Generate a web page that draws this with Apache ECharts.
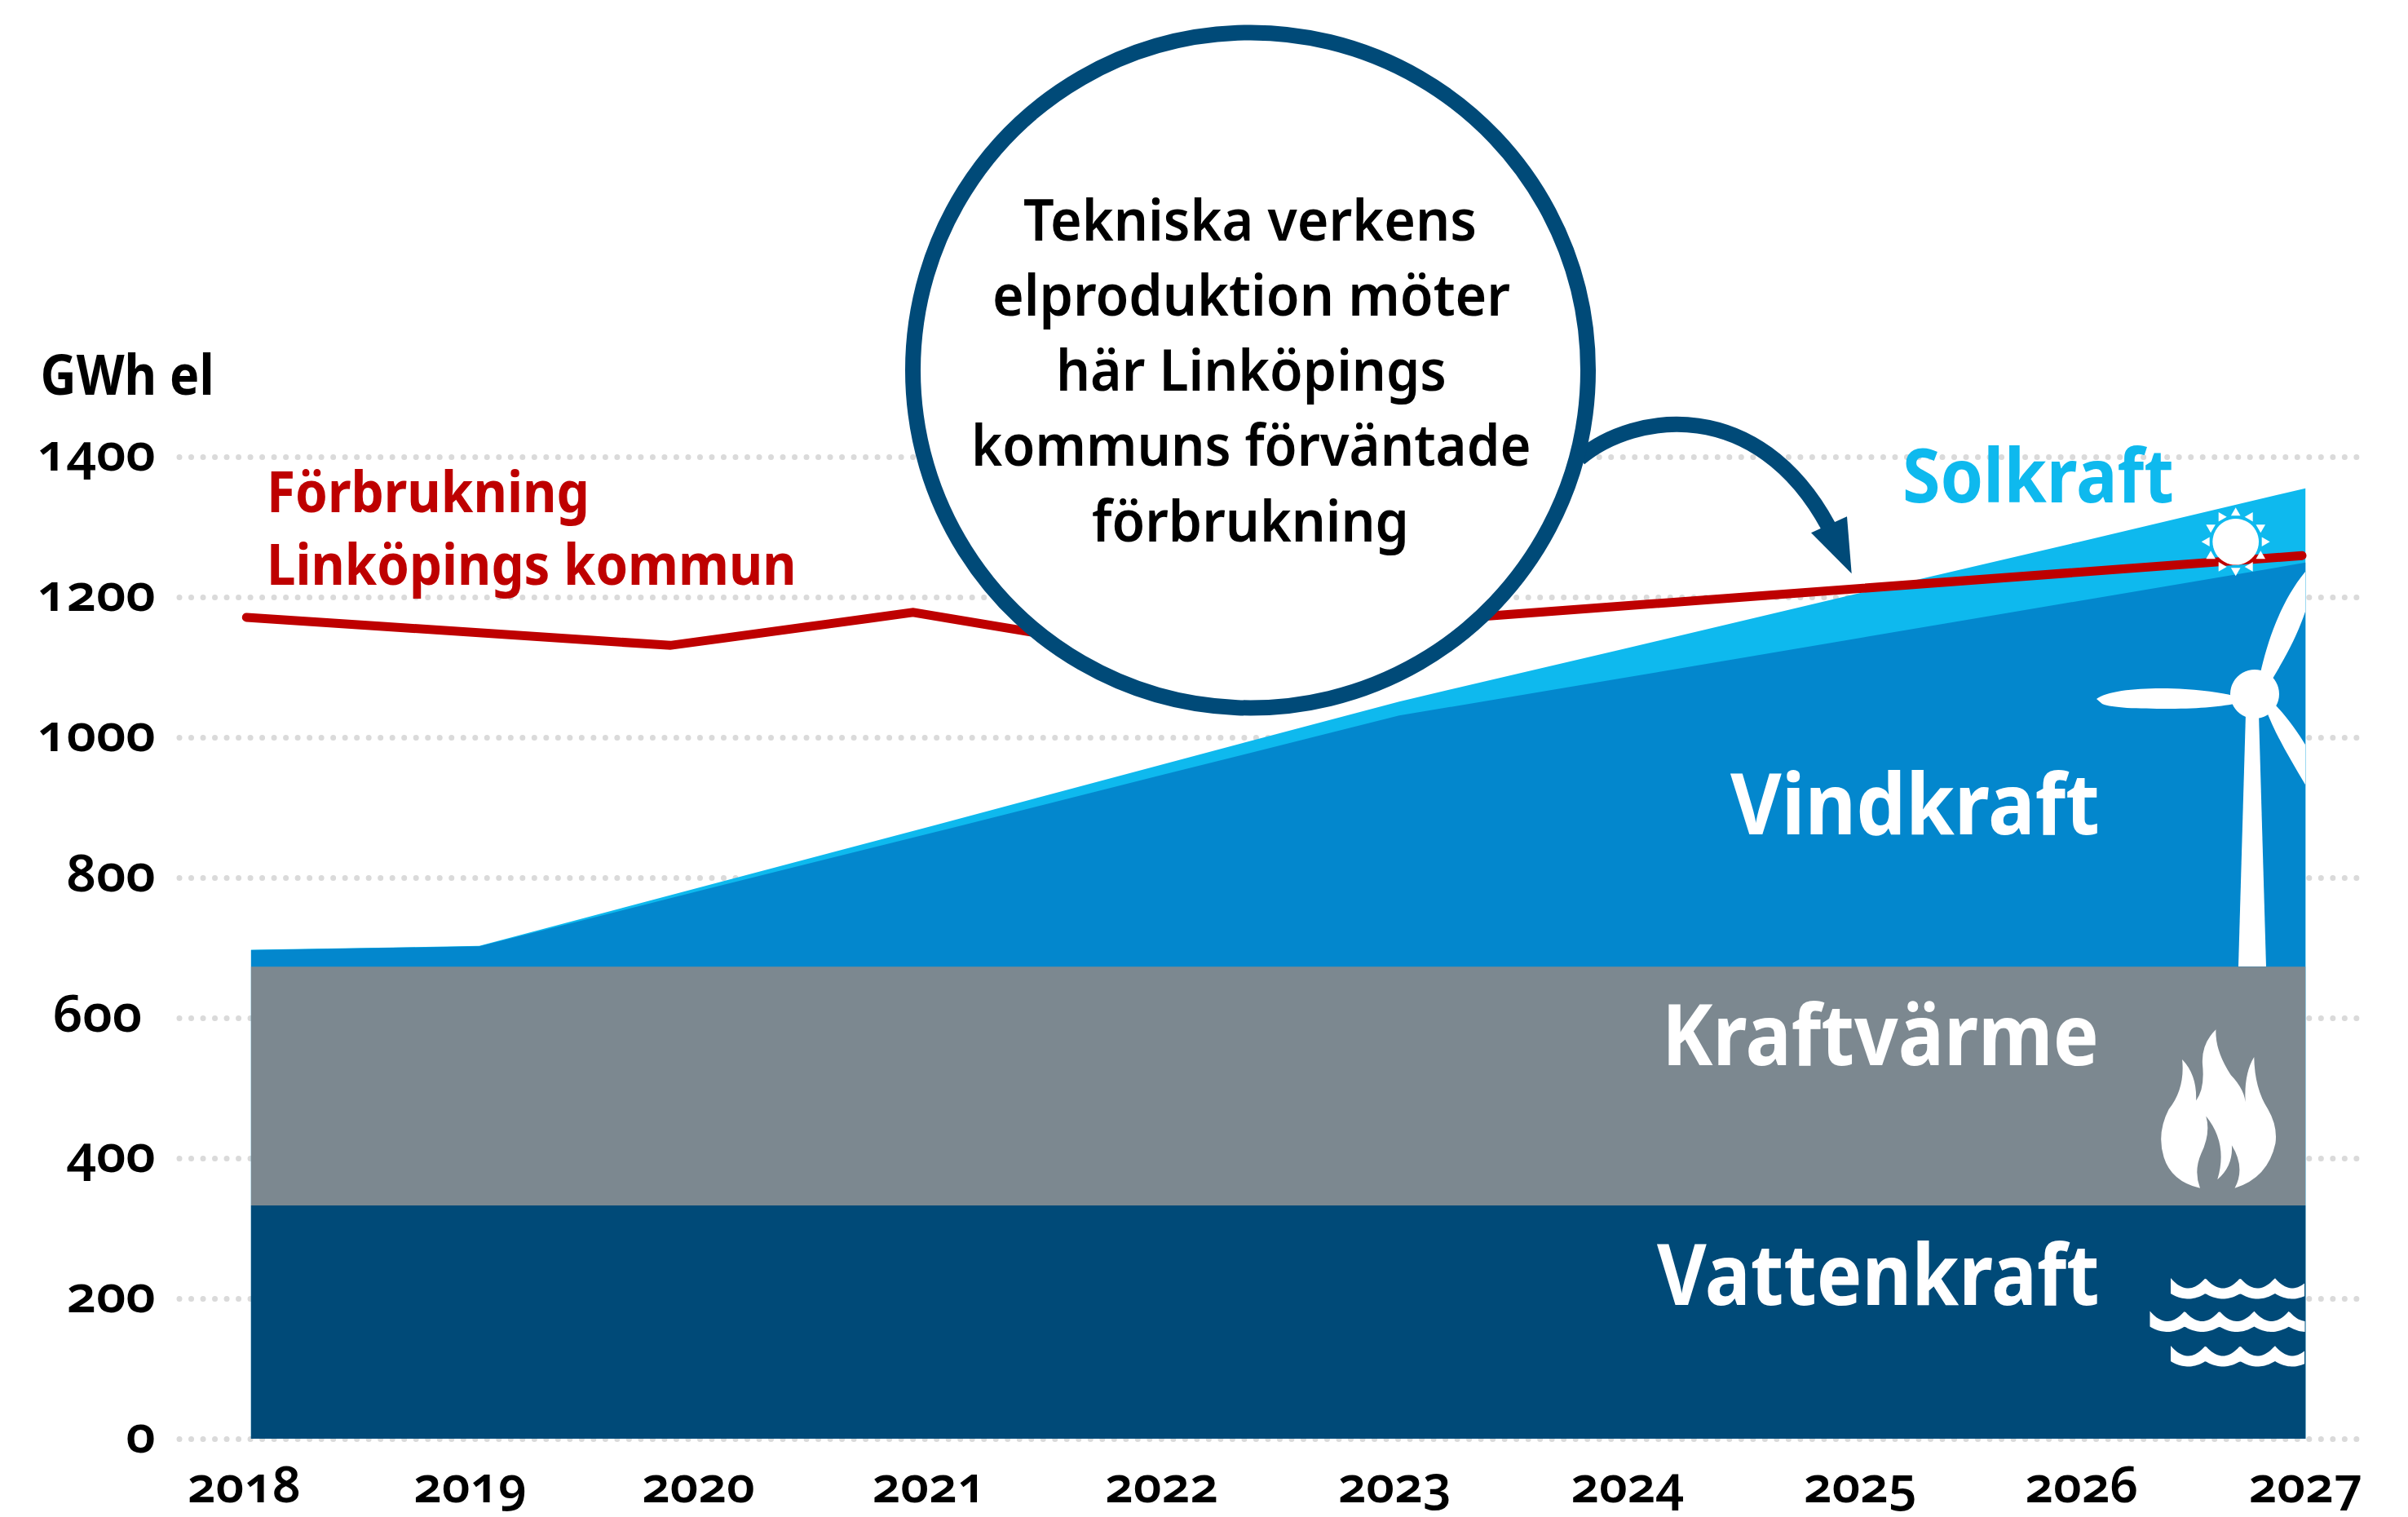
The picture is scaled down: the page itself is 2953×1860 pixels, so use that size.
<!DOCTYPE html>
<html>
<head>
<meta charset="utf-8">
<title>Elproduktion Linköping</title>
<script src="https://cdn.jsdelivr.net/npm/echarts@6/dist/echarts.min.js"></script>
<style>
	html, body { margin: 0; padding: 0; background: #fff; }
	#main { width: 2953px; height: 1860px; }
	/* gemena siffror som i originalet */
	#main text { font-feature-settings: "onum" 1, "lnum" 0 !important; }
</style>
</head>
<body>
<div id="main"></div>
<script>
"use strict";

var years = [2018, 2019, 2020, 2021, 2022, 2023.03, 2024, 2025, 2026, 2027];
var yearLabels = ['2018', '2019', '2020', '2021', '2022', '2023', '2024', '2025', '2026', '2027'];
// etiketterna sitter inte exakt under sina år i originalet
var yearLabelPos = [2017.97, 2018.96, 2019.96, 2020.97, 2021.99, 2023.01, 2024.03, 2025.05, 2026.02, 2027.0];

// överkanten på varje lager (stack fungerar inte på värdeaxel i x)
var vattenTop = [332.5, 332.5, 332.5, 332.5, 332.5, 332.5, 332.5, 332.5, 332.5, 332.5];
var kraftvarmeTop = [673, 673, 673, 673, 673, 673, 673, 673, 673, 673];
var vindTop = [696.5, 702, 784, 865, 947, 1031, 1084, 1139, 1194, 1249];
var solTop = [697, 702.5, 789, 875, 962, 1051, 1125, 1202, 1278, 1355];

var forbrukningYears = [2017.98, 2019.836, 2020.9, 2021.92, 2022.97, 2026.985];
var forbrukning = [1171, 1131, 1178, 1123, 1162, 1259];

var FONT = '"Noto Sans"';
var BLUE = '#004A78', GREY = '#7C8890', WIND = '#0387CD', SUN = '#0EB9EE', RED = '#BE0000';

function pairs(xs, ys) {
	return xs.map(function (x, i) { return [x, ys[i]]; });
}

var ctx = document.createElement('canvas').getContext('2d');

// text som kläms ihop till originalets bredd
function label(text, x, baseline, width, size, color, weight) {
	var font = weight + ' ' + size + 'px ' + FONT;
	ctx.font = font;
	return {
		type: 'text',
		x: x,
		y: baseline - size * 0.36,
		scaleX: width / ctx.measureText(text).width,
		style: { text: text, x: 0, y: 0, fill: color, font: font, align: 'left', verticalAlign: 'middle' }
	};
}

// graphic kan inte ta svg-data direkt, så varje ikon registreras som form
function pathEl(name, d, style, props) {
	echarts.graphic.registerShape(name, echarts.graphic.extendPath(d, {}));
	var el = { type: name, style: style };
	for (var k in props) {
		el[k] = props[k];
	}
	return el;
}

function areaSeries(name, values, color, z) {
	return {
		name: name,
		type: 'line',
		z: z,
		data: pairs(years, values),
		showSymbol: false,
		silent: true,
		lineStyle: { width: 0 },
		itemStyle: { color: color },
		areaStyle: { color: color, opacity: 1, origin: 'start' }
	};
}

var graphics = [];

// solen
var sunX = 2741.7, sunY = 664.3;
graphics.push({ type: 'circle', shape: { cx: sunX, cy: sunY, r: 28.3 }, style: { fill: '#fff' } });
for (var i = 0; i < 12; i++) {
	var a = i * Math.PI / 6, c = Math.cos(a), s = Math.sin(a);
	graphics.push({
		type: 'polygon',
		shape: { points: [
			[sunX + 42 * c, sunY + 42 * s],
			[sunX + 32 * c - 5.8 * s, sunY + 32 * s + 5.8 * c],
			[sunX + 32 * c + 5.8 * s, sunY + 32 * s - 5.8 * c]
		] },
		style: { fill: '#fff' }
	});
}

// vindkraftverket
graphics.push({ type: 'polygon', shape: { points: [[2754, 875], [2770, 875], [2779, 1185], [2745, 1185]] }, style: { fill: '#fff' } });
graphics.push({ type: 'circle', shape: { cx: 2765, cy: 851, r: 30 }, style: { fill: '#fff' } });
graphics.push(pathEl('bladeLeft', 'M2571 857 C2585 845 2640 842 2680 845 C2710 847 2730 850 2745 855 L2745 862 C2725 866 2700 869 2660 869 C2620 869 2590 868 2578 863 Z', { fill: '#fff' }));
graphics.push(pathEl('bladeUp', 'M2772 825 C2780 790 2795 740 2827 701 L2827 750 C2815 785 2800 810 2787 832 Z', { fill: '#fff' }));
graphics.push(pathEl('bladeDown', 'M2778 868 L2790 864 C2805 880 2818 898 2827 913 L2827 962 C2808 930 2790 900 2778 868 Z', { fill: '#fff' }));

// lågan, ritad i zoomens koordinater och skalad på plats
graphics.push(pathEl('flame',
	'M1148 610 Q1090 590 1075 520 Q1060 450 1085 380 Q1118 320 1112 235 Q1142 280 1140 355 Q1158 320 1153 250 Q1150 190 1180 148 Q1178 210 1210 280 Q1240 325 1240 370 Q1235 280 1257 228 Q1258 320 1285 380 Q1305 430 1300 480 Q1285 580 1218 610 Q1240 550 1212 485 Q1215 545 1183 585 Q1205 480 1160 400 Q1170 450 1150 510 Q1135 560 1148 610 Z',
	{ fill: '#fff' },
	{ x: 2000, y: 1200, scaleX: 1 / 1.645, scaleY: 1 / 2.376 }));

// vågorna
function wave(x0, y0) {
	var top = [], bottom = [];
	for (var x = x0; x <= 2827; x += 2) {
		var u = ((x - x0) / 42.6) % 1;
		var d = 1 - Math.pow((u - 0.5) / 0.5, 2);
		top.push([x, y0 + 12.5 * d]);
		bottom.unshift([x, y0 + 19 + 6.5 * d]);
	}
	return { type: 'polygon', shape: { points: top.concat(bottom) }, style: { fill: '#fff' } };
}
graphics.push(wave(2662, 1567), wave(2636.5, 1607.5), wave(2662, 1650));

// pilen från cirkeln
graphics.push(pathEl('arrowBody', 'M1937 562 C2005 505 2155 485 2242 645', { fill: 'none', stroke: BLUE, lineWidth: 19 }));
graphics.push({ type: 'polygon', shape: { points: [[2265, 633.3], [2270.7, 703.3], [2221, 653.3]] }, style: { fill: BLUE } });

// cirkeln
graphics.push({ type: 'circle', shape: { cx: 1533.5, cy: 454, r: 414 }, style: { fill: '#fff', stroke: BLUE, lineWidth: 19 } });

graphics.push(
	label('Tekniska verkens', 1255, 293, 556, 70, '#000', 600),
	label('elproduktion möter', 1217, 385, 635, 70, '#000', 600),
	label('här Linköpings', 1295, 477, 479, 70, '#000', 600),
	label('kommuns förväntade', 1191, 569, 687, 70, '#000', 600),
	label('förbrukning', 1339, 662, 389, 70, '#000', 600),
	label('GWh el', 49.6, 482, 213, 68, '#000', 700),
	label('Förbrukning', 327, 626, 396, 70, RED, 700),
	label('Linköpings kommun', 327, 716, 650, 70, RED, 700),
	label('Solkraft', 2333, 614, 333, 92, SUN, 700),
	label('Vindkraft', 2122, 1020, 453, 104, '#fff', 700),
	label('Kraftvärme', 2038, 1303, 536, 104, '#fff', 700),
	label('Vattenkraft', 2032, 1597, 543, 104, '#fff', 700)
);

// graphic hamnar annars under serierna
graphics.forEach(function (g) { g.z = 100; });

var myChart = echarts.init(document.getElementById('main'), null, { renderer: 'svg' });

var option = {
	animation: false,
	backgroundColor: '#fff',
	grid: { left: 220, right: 53, top: 560, bottom: 96 },
	xAxis: {
		type: 'value',
		min: 2017.686,
		max: 2027.26,
		axisLine: { show: false },
		axisTick: { show: false },
		splitLine: { show: false },
		axisLabel: {
			customValues: yearLabelPos,
			formatter: function (v) { return yearLabels[yearLabelPos.indexOf(v)]; },
			margin: 24,
			color: '#000',
			fontFamily: FONT,
			fontWeight: 600,
			fontSize: 61
		}
	},
	yAxis: {
		type: 'value',
		min: 0,
		max: 1400,
		interval: 200,
		axisLine: { show: false },
		axisTick: { show: false },
		splitLine: {
			show: true,
			lineStyle: { color: '#DADADA', width: 7, type: [0.01, 14.5], cap: 'round' }
		},
		axisLabel: {
			// 600 står lite till vänster i originalet
			formatter: function (v) { return v === 600 ? '600\u00a0' : String(v); },
			margin: 29,
			// lyfter siffrorna lite över linjen
			verticalAlign: 'bottom',
			lineHeight: 16,
			color: '#000',
			fontFamily: FONT,
			fontWeight: 600,
			fontSize: 64
		}
	},
	series: [
		areaSeries('Solkraft', solTop, SUN, 2),
		areaSeries('Vindkraft', vindTop, WIND, 3),
		areaSeries('Kraftvärme', kraftvarmeTop, GREY, 4),
		areaSeries('Vattenkraft', vattenTop, BLUE, 5),
		{
			name: 'Förbrukning Linköpings kommun',
			type: 'line',
			z: 6,
			data: pairs(forbrukningYears, forbrukning),
			showSymbol: false,
			silent: true,
			lineStyle: { color: RED, width: 11, cap: 'round', join: 'miter' }
		}
	],
	graphic: { elements: graphics }
};

myChart.setOption(option);
</script>
</body>
</html>
